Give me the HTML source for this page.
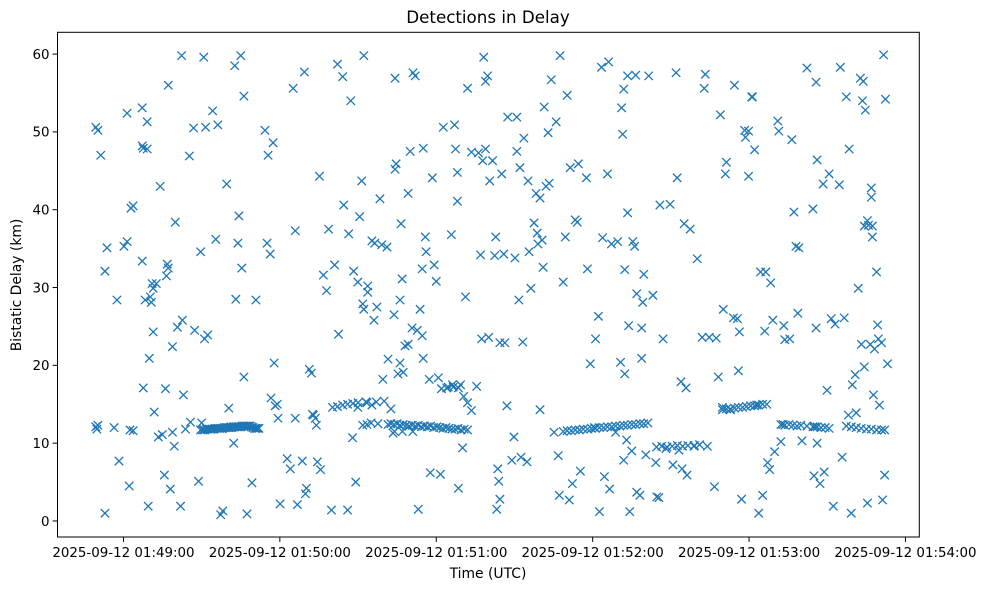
<!DOCTYPE html>
<html>
<head>
<meta charset="utf-8">
<style>
  html,body{margin:0;padding:0;background:#fff;}
  svg{display:block;font-family:"DejaVu Sans","Liberation Sans",sans-serif;}
</style>
</head>
<body>
<svg id="chart" width="988" height="590" viewBox="0 0 988 590" xmlns="http://www.w3.org/2000/svg">
  <rect x="0" y="0" width="988" height="590" fill="#ffffff"/>
  <text x="488" y="23" font-size="16.7" text-anchor="middle" fill="#000">Detections in Delay</text>
  <text x="488" y="578" font-size="13.9" text-anchor="middle" fill="#000">Time (UTC)</text>
  <text x="0" y="0" font-size="13.9" text-anchor="middle" fill="#000" transform="translate(21,285) rotate(-90)">Bistatic Delay (km)</text>
  <g id="marks"></g>
  <g id="axes"></g>
</svg>
<script>
// Time values: seconds after 01:49:01 UTC; delay values: km
const T_OFFSET = 1;
const xTickMinutes = [0, 1, 2, 3, 4, 5];
const xTickLabels = ["2025-09-12 01:49:00","2025-09-12 01:50:00","2025-09-12 01:51:00","2025-09-12 01:52:00","2025-09-12 01:53:00","2025-09-12 01:54:00"];
const yTicks = [0, 10, 20, 30, 40, 50, 60];

const scatterPoints = [
[-11.6,50.6],[-10.8,50.2],[-9.7,47.0],[-11.6,12.1],[-10.8,12.3],[-11.2,11.8],[-8.1,32.1],[-7.3,35.1],[-8.1,1.0],[-4.6,12.0],
[-3.5,28.4],[-2.7,7.7],[-0.8,35.3],[0.4,52.4],[0.4,35.9],[1.2,4.5],[1.5,11.7],[1.9,40.2],[2.7,40.5],[2.7,11.6],
[6.2,53.1],[6.2,48.2],[6.6,47.9],[6.2,33.4],[6.6,17.1],[7.3,28.4],[8.1,51.3],[8.1,47.8],[8.5,1.9],[8.9,20.9],
[9.3,28.8],[9.7,28.1],[10.0,30.5],[10.4,29.9],[10.4,24.3],[10.8,14.0],[11.6,30.5],[12.4,10.8],[13.1,43.0],[13.9,11.1],
[14.7,5.9],[15.1,17.0],[15.5,31.5],[15.8,33.0],[16.2,32.5],[16.2,56.0],[17.0,4.1],[17.8,11.4],[17.8,22.4],[18.5,9.6],
[18.9,38.4],[19.7,24.9],[20.9,1.9],[21.3,59.8],[21.6,25.8],[22.0,16.2],[22.8,11.8],[24.3,46.9],[24.7,12.7],[25.9,50.5],
[26.3,24.5],[27.8,5.1],[28.6,34.6],[29.0,12.6],[29.8,59.6],[30.1,23.4],[30.5,50.6],[31.3,23.9],[33.2,52.7],[34.4,36.2],
[35.2,50.9],[36.3,0.8],[37.1,1.3],[38.6,43.3],[39.4,14.5],[40.2,12.1],[41.3,10.0],[41.7,58.5],[42.1,28.5],[42.9,35.7],
[43.3,39.2],[44.0,59.8],[44.4,32.5],[45.2,54.6],[45.2,18.5],[46.4,0.9],[48.3,4.9],[49.8,28.4],[53.3,50.2],[54.1,35.7],
[54.5,47.0],[55.3,34.3],[55.6,15.8],[56.4,48.6],[56.8,20.3],[57.2,14.8],[58.0,15.0],[58.3,13.2],[59.1,2.2],[61.8,8.0],
[63.0,6.7],[64.1,55.6],[64.9,37.3],[64.9,13.2],[65.7,2.1],[67.6,7.7],[68.4,57.7],[68.8,3.5],[69.2,4.2],[70.3,19.5],
[71.1,19.0],[71.5,13.7],[71.9,13.6],[72.6,13.2],[73.0,12.3],[73.4,7.6],[74.2,44.3],[74.6,6.6],[75.7,31.6],[76.9,29.6],
[77.7,37.5],[78.8,1.4],[80.0,32.9],[81.1,58.7],[81.5,24.0],[83.1,57.1],[83.5,40.6],[85.0,1.4],[85.4,36.9],[86.2,54.0],
[86.9,10.7],[87.3,32.1],[88.1,5.0],[88.9,14.6],[88.9,30.7],[89.6,39.1],[90.4,43.7],[90.8,27.9],[91.2,59.8],[91.2,27.2],
[92.4,15.2],[92.7,30.2],[92.7,29.4],[94.3,14.9],[94.3,36.0],[95.1,25.8],[95.4,35.7],[96.2,27.5],[97.4,41.4],[98.1,35.5],
[98.5,18.2],[100.1,35.2],[100.5,20.8],[101.6,14.4],[102.4,11.3],[102.8,26.5],[103.2,56.9],[103.2,45.2],[103.6,45.9],[104.3,18.9],
[105.1,28.4],[105.1,20.3],[105.5,38.2],[105.9,31.1],[106.3,19.1],[107.0,22.5],[108.2,22.7],[108.2,42.1],[109.0,47.5],[109.7,24.8],
[110.1,57.6],[110.9,57.2],[111.7,24.5],[112.1,1.5],[112.8,27.2],[113.6,32.4],[113.6,23.8],[114.0,47.9],[114.0,20.9],[114.8,36.5],
[115.1,34.6],[116.3,18.2],[116.7,6.2],[117.5,44.1],[118.2,32.9],[119.0,30.8],[119.8,18.4],[120.6,6.0],[121.7,50.6],[123.6,17.2],
[124.8,36.8],[125.2,17.5],[126.0,50.9],[126.4,47.8],[127.1,44.8],[127.1,41.1],[127.5,4.2],[128.3,17.5],[129.1,9.4],[130.2,28.8],
[131.0,55.6],[132.5,47.4],[134.5,17.3],[135.2,47.3],[136.0,34.2],[136.4,23.4],[136.8,46.3],[137.2,59.6],[137.9,56.5],[137.9,47.8],
[138.7,57.2],[139.1,23.6],[139.5,43.7],[140.6,46.3],[141.4,34.1],[141.8,36.5],[142.2,1.5],[142.6,6.7],[143.0,5.1],[143.4,2.8],
[143.4,22.9],[144.1,44.6],[144.9,34.3],[145.3,22.9],[146.1,14.8],[146.4,51.9],[148.0,7.8],[148.8,10.8],[149.2,33.8],[149.9,47.5],
[149.9,51.9],[150.7,28.4],[151.1,45.4],[151.5,8.2],[152.2,23.0],[152.6,49.2],[153.8,7.6],[154.2,43.7],[154.6,34.6],[155.3,29.9],
[156.5,38.3],[157.3,42.1],[157.7,37.0],[158.0,35.6],[158.8,41.5],[158.8,14.3],[159.6,36.1],[160.0,32.6],[160.4,53.2],[161.1,43.0],
[161.9,49.9],[162.3,43.4],[163.1,56.7],[164.2,11.4],[165.0,51.3],[165.8,8.4],[166.2,3.3],[166.5,59.8],[167.7,30.7],[168.5,36.5],
[169.2,54.7],[170.0,2.7],[170.4,45.4],[171.2,4.8],[172.3,38.7],[173.1,38.4],[173.5,45.9],[174.3,6.4],[176.6,44.1],[177.0,32.4],
[178.1,20.2],[179.7,12.0],[180.1,23.4],[181.2,26.3],[181.6,1.2],[182.4,58.3],[182.8,36.4],[183.5,5.7],[184.7,44.6],[185.1,59.0],
[185.5,4.1],[186.2,35.6],[187.8,11.4],[188.6,35.9],[189.7,20.4],[190.1,53.1],[190.5,49.7],[190.9,7.8],[190.9,55.5],[191.3,32.3],
[191.3,18.9],[192.0,10.4],[192.4,57.2],[192.4,39.6],[192.8,25.1],[193.2,1.2],[194.0,9.0],[194.4,35.9],[195.1,35.3],[195.5,57.3],
[195.9,3.7],[195.9,29.2],[197.1,3.3],[197.8,24.8],[197.8,20.9],[198.2,28.1],[198.6,31.7],[199.4,8.5],[200.5,57.2],[202.1,29.0],
[203.2,7.5],[203.6,3.1],[204.4,3.0],[204.8,40.6],[206.0,23.4],[207.1,9.3],[208.7,40.7],[209.8,7.2],[211.0,57.6],[211.4,44.1],
[212.1,9.1],[212.9,17.9],[213.3,6.7],[214.1,38.2],[214.8,17.1],[215.2,5.9],[216.4,37.5],[217.9,9.6],[219.1,33.7],[221.0,23.6],
[221.8,55.6],[222.2,57.4],[223.0,9.6],[223.7,23.6],[225.7,4.4],[226.4,23.5],[227.2,18.5],[228.0,52.2],[228.8,14.6],[229.1,27.2],
[229.9,44.6],[230.3,46.1],[231.8,14.3],[233.0,26.1],[233.4,56.0],[234.5,26.0],[234.9,19.3],[235.3,24.3],[236.1,2.8],[237.3,50.2],
[237.6,49.3],[238.8,50.1],[238.8,44.3],[240.0,54.5],[240.3,54.5],[241.1,47.7],[241.9,14.9],[242.7,1.0],[243.4,32.0],[244.2,3.3],
[245.0,24.4],[245.4,32.0],[246.1,7.5],[246.9,6.6],[247.3,30.6],[248.1,25.8],[248.8,8.9],[250.0,51.4],[250.4,50.1],[251.2,10.2],
[252.3,25.1],[252.7,23.3],[254.6,23.4],[255.4,49.0],[256.2,39.7],[257.0,35.3],[257.7,26.7],[258.1,35.1],[259.3,10.3],[261.2,58.2],
[263.5,40.1],[263.9,5.8],[264.7,56.4],[264.7,24.8],[265.1,46.4],[265.1,10.0],[266.2,4.8],[267.4,43.3],[267.8,6.3],[268.9,16.8],
[269.7,44.6],[270.5,26.0],[271.3,1.9],[272.0,25.3],[273.6,43.2],[274.0,58.3],[274.7,8.2],[275.5,26.1],[276.3,54.5],[277.1,13.6],
[277.4,47.8],[278.2,1.0],[278.6,17.5],[279.7,18.8],[280.1,13.9],[280.9,29.9],[281.7,56.9],[282.1,22.7],[282.5,54.0],[282.8,56.5],
[283.2,37.9],[283.2,19.8],[283.6,52.8],[284.4,2.3],[284.4,38.6],[284.8,38.0],[285.5,22.7],[285.9,42.8],[285.9,41.6],[286.3,36.5],
[286.3,37.9],[286.7,16.2],[287.1,22.1],[287.9,32.0],[288.3,25.2],[288.6,23.4],[289.0,14.9],[289.8,22.9],[290.2,2.7],[290.6,59.9],
[291.0,5.9],[291.3,54.2],[292.1,20.2]
];

const bandPoints = [
[28.6,11.7],[29.4,11.7],[30.1,11.7],[30.8,11.8],[31.3,11.8],[32.0,11.8],[32.5,11.8],[33.1,11.8],[33.6,11.8],[34.2,11.9],[34.8,11.9],[35.4,11.9],
[36.0,11.9],[36.6,11.9],[37.1,11.9],[37.7,12.0],[38.3,12.0],[38.9,12.0],[39.4,12.0],[40.0,12.0],[40.6,12.0],[41.2,12.1],[41.7,12.1],[42.3,12.1],
[42.9,12.1],[43.5,12.1],[44.0,12.1],[44.6,12.2],[45.2,12.2],[45.8,12.2],[46.4,12.2],[47.0,12.2],[47.5,12.2],[48.1,12.1],[48.7,12.0],[49.3,11.9],
[49.8,11.9],[50.4,11.9],[51.0,11.9],
[79.2,14.6],[81.1,14.7],[83.1,14.9],[85.0,15.0],[87.0,15.1],[89.0,15.2],[92.0,15.3],[96.0,15.3],[99.0,15.4],
[90.8,12.3],[92.4,12.4],[94.0,12.6],[96.6,12.5],
[100.5,12.4],[101.6,12.5],[102.8,12.4],[104.0,12.5],[105.1,12.3],[106.3,12.4],[107.5,12.3],[108.6,12.2],[109.8,12.3],[111.0,12.2],
[112.1,12.3],[113.3,12.1],[114.5,12.2],[115.6,12.1],[116.8,12.2],[118.0,12.0],[119.2,12.1],[120.3,12.0],[121.5,11.9],[122.7,12.0],
[123.8,11.9],[125.0,11.8],[126.2,11.8],[127.3,11.9],[128.5,11.7],[129.7,11.8],[131.0,11.7],[103.0,11.5],[106.0,11.5],[110.0,11.5],
[121.0,17.0],[123.0,17.1],[125.5,17.2],[127.5,17.1],[129.5,16.0],[131.0,15.2],[132.5,14.2],
[167.7,11.5],[169.2,11.6],[170.8,11.6],[172.3,11.7],[173.9,11.7],[175.4,11.8],[177.0,11.8],[178.5,11.9],[180.1,11.9],[181.6,12.0],
[183.2,12.0],[184.7,12.1],[186.3,12.1],[187.8,12.2],[189.4,12.2],[190.9,12.3],[192.4,12.3],[194.0,12.4],[195.5,12.4],[197.1,12.5],
[198.6,12.5],[200.2,12.6],
[203.5,9.5],[205.5,9.6],[207.5,9.5],[209.5,9.6],[211.5,9.7],[213.5,9.6],[215.5,9.7],[218.0,9.7],[220.0,9.8],
[228.8,14.3],[230.3,14.4],[231.8,14.4],[233.4,14.5],[234.9,14.6],[236.5,14.6],[238.0,14.7],[239.6,14.8],[241.1,14.8],[242.7,14.9],
[244.2,15.0],[245.8,15.0],
[251.2,12.4],[252.0,12.4],[252.7,12.3],[254.3,12.4],[255.8,12.3],[257.4,12.2],[258.9,12.3],[261.2,12.2],[263.5,12.1],[264.3,12.1],
[265.1,12.1],[266.6,12.0],[268.2,12.0],[269.7,11.9],
[276.3,12.2],[278.2,12.1],[280.1,12.0],[282.0,11.9],[284.0,11.8],[285.9,11.8],[287.9,11.7],[289.8,11.7],[291.0,11.7]
];

const PLOT = {left:57.5, right:919.3, top:32.3, bottom:537};
const X_DOMAIN = [-25.3, 305.3];   // seconds after 01:49:00
const Y_DOMAIN = [-2.06, 62.8];    // km
function xScale(sec){ return PLOT.left + (sec - X_DOMAIN[0]) / (X_DOMAIN[1]-X_DOMAIN[0]) * (PLOT.right-PLOT.left); }
function yScale(km){ return PLOT.bottom - (km - Y_DOMAIN[0]) / (Y_DOMAIN[1]-Y_DOMAIN[0]) * (PLOT.bottom-PLOT.top); }

const NS = "http://www.w3.org/2000/svg";
const marks = document.getElementById("marks");
const axes = document.getElementById("axes");
const COLOR = "#1f77b4";
const R = 4.2;

function drawMarker(p){
  const cx = xScale(p[0] + T_OFFSET), cy = yScale(p[1]);
  const path = document.createElementNS(NS, "path");
  path.setAttribute("d", "M"+(cx-R)+","+(cy-R)+"L"+(cx+R)+","+(cy+R)+"M"+(cx-R)+","+(cy+R)+"L"+(cx+R)+","+(cy-R));
  path.setAttribute("stroke", COLOR);
  path.setAttribute("stroke-width", "1.3");
  path.setAttribute("fill", "none");
  
  
  marks.appendChild(path);
}
scatterPoints.forEach(drawMarker);
bandPoints.forEach(drawMarker);

// frame
const frame = document.createElementNS(NS, "rect");
frame.setAttribute("x", PLOT.left); frame.setAttribute("y", PLOT.top);
frame.setAttribute("width", PLOT.right-PLOT.left); frame.setAttribute("height", PLOT.bottom-PLOT.top);
frame.setAttribute("fill", "none"); frame.setAttribute("stroke", "#000"); frame.setAttribute("stroke-width", "1");


axes.appendChild(frame);

xTickMinutes.forEach(function(m, i){
  const x = xScale(m*60);
  const t = document.createElementNS(NS, "line");
  t.setAttribute("x1", x); t.setAttribute("x2", x);
  t.setAttribute("y1", PLOT.bottom); t.setAttribute("y2", PLOT.bottom+4.9);
  t.setAttribute("stroke", "#000"); t.setAttribute("stroke-width", "1");
  
  
  axes.appendChild(t);
  const lab = document.createElementNS(NS, "text");
  lab.setAttribute("x", x); lab.setAttribute("y", PLOT.bottom+20);
  lab.setAttribute("font-size", "13.4"); lab.setAttribute("text-anchor", "middle");
  lab.textContent = xTickLabels[i];
  
  
  axes.appendChild(lab);
});

yTicks.forEach(function(v){
  const y = yScale(v);
  const t = document.createElementNS(NS, "line");
  t.setAttribute("x1", PLOT.left-4.9); t.setAttribute("x2", PLOT.left);
  t.setAttribute("y1", y); t.setAttribute("y2", y);
  t.setAttribute("stroke", "#000"); t.setAttribute("stroke-width", "1");
  
  
  axes.appendChild(t);
  const lab = document.createElementNS(NS, "text");
  lab.setAttribute("x", PLOT.left-8); lab.setAttribute("y", y+4.8);
  lab.setAttribute("font-size", "13.4"); lab.setAttribute("text-anchor", "end");
  lab.textContent = String(v);
  
  
  axes.appendChild(lab);
});
</script>
</body>
</html>
